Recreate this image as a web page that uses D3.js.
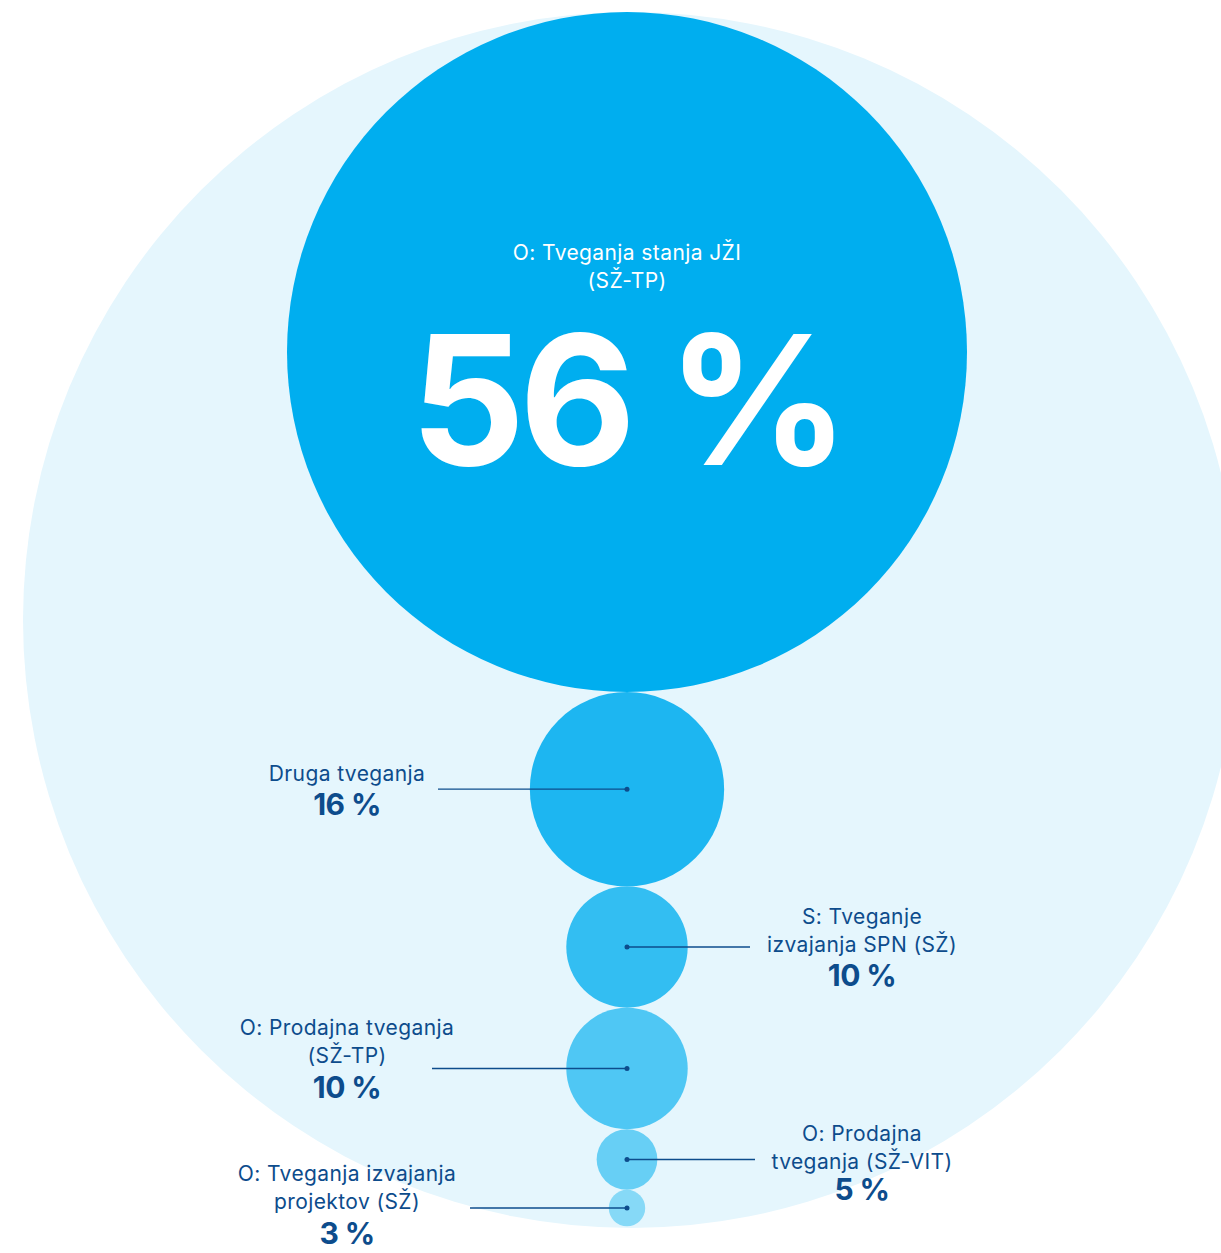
<!DOCTYPE html>
<html>
<head>
<meta charset="utf-8">
<script src="https://cdn.jsdelivr.net/npm/d3@7/dist/d3.min.js"></script>
<style>
  html, body { margin: 0; padding: 0; background: #ffffff; }
  svg { display: block; }
  text { font-family: Inter, "Liberation Sans", Arial, sans-serif; }
</style>
</head>
<body>
<svg id="chart" width="1221" height="1253"></svg>
<script>
// ---- Data ----
const categories = [
  "O: Tveganja stanja JŽI (SŽ-TP)",
  "Druga tveganja",
  "S: Tveganje izvajanja SPN (SŽ)",
  "O: Prodajna tveganja (SŽ-TP)",
  "O: Prodajna tveganja (SŽ-VIT)",
  "O: Tveganja izvajanja projektov (SŽ)"
];
const labelLines = [
  ["O: Tveganja stanja JŽI", "(SŽ-TP)"],
  ["Druga tveganja"],
  ["S: Tveganje", "izvajanja SPN (SŽ)"],
  ["O: Prodajna tveganja", "(SŽ-TP)"],
  ["O: Prodajna", "tveganja (SŽ-VIT)"],
  ["O: Tveganja izvajanja", "projektov (SŽ)"]
];
const values = [56, 16, 10, 10, 5, 3];
const valueLabels = ["56 %", "16 %", "10 %", "10 %", "5 %", "3 %"];

// ---- Style / layout ----
const colors = ["#00AEEF", "#1DB6F1", "#33BEF2", "#4FC7F4", "#67CFF5", "#86D9F7"];
const bgColor = "#E5F6FD";
const textColor = "#0D4C8C";
const side = [null, "left", "right", "left", "right", "left"];
const leaderX = [null, 438, 750, 432, 755, 470];
const firstDy = [null, -8, -23, -33, -19, -27]; // baseline of first name line relative to center
const pctGap = [null, 34, 34, 35, 31, 35];

const svg = d3.select("#chart");
const cx = 627;
const topY = 12;

const r = d3.scaleLinear().domain([0, 56]).range([0, 340]);

// background circle
svg.append("circle")
  .attr("cx", 631).attr("cy", 620).attr("r", 608)
  .attr("fill", bgColor);

// stacked positions
let yAcc = topY;
const nodes = values.map((v, i) => {
  const rad = r(v);
  const c = yAcc + rad;
  yAcc += 2 * rad;
  return { i, v, rad, cy: c, lines: labelLines[i], pct: valueLabels[i], color: colors[i] };
});

svg.selectAll("circle.bubble")
  .data(nodes)
  .join("circle")
  .attr("class", "bubble")
  .attr("cx", cx)
  .attr("cy", d => d.cy)
  .attr("r", d => d.rad)
  .attr("fill", d => d.color);

// Main label inside big circle
const main = nodes[0];
svg.append("g").selectAll("text")
  .data(main.lines)
  .join("text")
  .attr("x", cx)
  .attr("y", (d, k) => 260 + k * 28)
  .attr("text-anchor", "middle")
  .attr("fill", "#ffffff")
  .attr("font-size", 21)
  .attr("letter-spacing", 0.4)
  .text(d => d);

svg.append("text")
  .attr("x", cx)
  .attr("y", 465)
  .attr("text-anchor", "middle")
  .attr("fill", "#ffffff")
  .attr("font-size", 180)
  .attr("font-weight", 700)
  .attr("letter-spacing", -6)
  .text(main.pct);

// Other labels
const others = nodes.slice(1);
const g = svg.append("g");
others.forEach(d => {
  const s = side[d.i];
  const tx = s === "left" ? 347 : 862;
  const lx = leaderX[d.i];
  g.append("line")
    .attr("x1", lx).attr("x2", cx)
    .attr("y1", d.cy).attr("y2", d.cy)
    .attr("stroke", textColor)
    .attr("stroke-width", 1.4);
  g.append("circle")
    .attr("cx", cx).attr("cy", d.cy).attr("r", 2.5)
    .attr("fill", textColor);
  const y0 = d.cy + firstDy[d.i];
  d.lines.forEach((ln, k) => {
    g.append("text")
      .attr("x", tx)
      .attr("y", y0 + k * 28)
      .attr("text-anchor", "middle")
      .attr("fill", textColor)
      .attr("font-size", 21)
      .attr("letter-spacing", 0.4)
      .text(ln);
  });
  g.append("text")
    .attr("x", tx)
    .attr("y", y0 + (d.lines.length - 1) * 28 + pctGap[d.i])
    .attr("text-anchor", "middle")
    .attr("fill", textColor)
    .attr("font-size", 30)
    .attr("font-weight", 700)
    .attr("letter-spacing", -0.6)
    .text(d.pct);
});
</script>
</body>
</html>
